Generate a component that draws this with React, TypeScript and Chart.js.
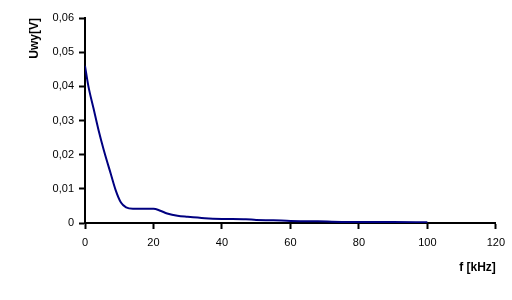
import React, { useEffect, useRef } from "react";
import { Chart, registerables } from "chart.js";

Chart.register(...registerables);

const freqKHz = [0, 1, 2.5, 4, 5.5, 7.5, 9, 10.5, 12, 14, 17, 20, 22, 24, 27, 30, 35, 40, 47, 50, 55, 60, 68, 75, 80, 90, 100];
const voltage = [0.046, 0.040, 0.0335, 0.027, 0.0213, 0.0145, 0.0095, 0.006, 0.0046, 0.0042, 0.0042, 0.0042, 0.0036, 0.0028, 0.0021, 0.0018, 0.0014, 0.0012, 0.0011, 0.0009, 0.0008, 0.0006, 0.0005, 0.0003, 0.0003, 0.0003, 0.0002];
const xTitle = "f [kHz]";
const yTitle = "Uwy[V]";

export default function App() {
  const ref = useRef<HTMLCanvasElement | null>(null);
  useEffect(() => {
    if (!ref.current) return;
    const font = { family: "'Liberation Sans', Arial, sans-serif", size: 11 };
    const titleFont = { family: "'Liberation Sans', Arial, sans-serif", size: 12, weight: "bold" };
    const chart = new Chart(ref.current, {
      type: "line",
      data: {
        datasets: [
          {
            data: freqKHz.map((f, i) => ({ x: f, y: voltage[i] })),
            borderColor: "#000080",
            borderWidth: 2,
            pointRadius: 0,
            fill: false,
            cubicInterpolationMode: "monotone",
          },
        ],
      },
      options: {
        animation: false,
        responsive: false,
        maintainAspectRatio: false,
        layout: { padding: { top: 18, right: 16, left: 22, bottom: 25 } },
        plugins: { legend: { display: false }, tooltip: { enabled: false } },
        scales: {
          x: {
            type: "linear",
            min: 0,
            max: 120,
            ticks: { stepSize: 20, color: "#000", font, padding: 7, maxRotation: 0 },
            grid: { display: true, drawOnChartArea: false, drawTicks: true, tickLength: 6, tickColor: "#000", tickWidth: 2 },
            border: { display: true, color: "#000", width: 2 },
            title: { display: true, text: xTitle, align: "end", color: "#000", font: titleFont, padding: { top: 6, bottom: 0 } },
            afterFit: (s: any) => { s.height = 52; },
          },
          y: {
            type: "linear",
            min: 0,
            max: 0.06,
            ticks: {
              stepSize: 0.01,
              color: "#000",
              font,
              padding: 5,
              callback: (v: any) => (v === 0 ? "0" : Number(v).toFixed(2).replace(".", ",")),
            },
            grid: { display: true, drawOnChartArea: false, drawTicks: true, tickLength: 6, tickColor: "#000", tickWidth: 2 },
            border: { display: true, color: "#000", width: 2 },
            title: { display: true, text: yTitle, align: "end", color: "#000", font: titleFont, padding: { top: 5, bottom: 0 } },
            afterFit: (s: any) => { s.width = 63; },
          },
        },
      },
    } as any);
    return () => chart.destroy();
  }, []);
  return (
    <div style={{ position: "fixed", left: 0, top: 0, width: 512, height: 300, background: "#fff" }}>
      <canvas ref={ref} width={512} height={300} style={{ width: 512, height: 300 }} />
    </div>
  );
}
